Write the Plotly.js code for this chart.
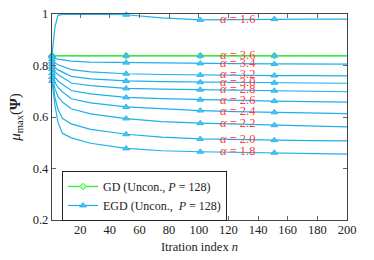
<!DOCTYPE html>
<html><head><meta charset="utf-8">
<script src="https://cdn.plot.ly/plotly-3.0.1.min.js"></script>
<style>body{margin:0;background:#fff}</style></head>
<body><div id="c" style="width:374px;height:260px"></div>
<script>
// iteration indices where values were read
const iters = [1, 2, 3, 5, 8, 14, 27, 51, 75, 101, 125, 151, 175, 200];
const markerIters = [1, 51, 101, 151];
const xTicks = [20, 40, 60, 80, 100, 120, 140, 160, 180, 200];
const yTicks = [0.2, 0.4, 0.6, 0.8, 1];

// GD (Uncon., P = 128)
const gd = [0.838, 0.838, 0.838, 0.838, 0.838, 0.838, 0.838, 0.838, 0.838, 0.838, 0.838, 0.838, 0.838, 0.838];

// EGD (Uncon., P = 128), one series per alpha
const alphaLabels = ['1.6', '3.6', '3.4', '3.2', '3.0', '2.8', '2.6', '2.4', '2.2', '2.0', '1.8'];
const egd16 = [0.840, 0.900, 0.950, 0.995, 0.998, 0.999, 0.999, 0.997, 0.985, 0.977, 0.978, 0.980, 0.980, 0.980];
const egd36 = [0.838, 0.838, 0.838, 0.838, 0.838, 0.838, 0.838, 0.838, 0.838, 0.838, 0.838, 0.838, 0.838, 0.838];
const egd34 = [0.835, 0.830, 0.828, 0.825, 0.822, 0.817, 0.813, 0.811, 0.809, 0.808, 0.807, 0.806, 0.806, 0.805];
const egd32 = [0.825, 0.815, 0.810, 0.803, 0.797, 0.784, 0.775, 0.768, 0.765, 0.763, 0.762, 0.761, 0.761, 0.760];
const egd30 = [0.815, 0.800, 0.792, 0.783, 0.775, 0.758, 0.748, 0.740, 0.737, 0.735, 0.734, 0.733, 0.732, 0.731];
const egd28 = [0.805, 0.785, 0.775, 0.765, 0.755, 0.732, 0.722, 0.711, 0.708, 0.706, 0.704, 0.702, 0.700, 0.698];
const egd26 = [0.795, 0.770, 0.755, 0.740, 0.728, 0.703, 0.690, 0.676, 0.671, 0.667, 0.664, 0.662, 0.660, 0.658];
const egd24 = [0.785, 0.755, 0.735, 0.715, 0.698, 0.671, 0.655, 0.639, 0.631, 0.625, 0.621, 0.618, 0.616, 0.613];
const egd22 = [0.770, 0.735, 0.710, 0.680, 0.658, 0.632, 0.612, 0.594, 0.582, 0.576, 0.572, 0.568, 0.565, 0.562];
const egd20 = [0.755, 0.710, 0.675, 0.630, 0.595, 0.573, 0.552, 0.533, 0.522, 0.515, 0.512, 0.510, 0.508, 0.507];
const egd18 = [0.740, 0.690, 0.645, 0.580, 0.537, 0.519, 0.498, 0.478, 0.469, 0.465, 0.463, 0.461, 0.458, 0.456];
const egdSeries = [egd16, egd36, egd34, egd32, egd30, egd28, egd26, egd24, egd22, egd20, egd18];

const labelIter = 125;  // series value used for each alpha label's height

const BLUE = '#1fb0ea';
const GREEN = '#33ee33';
const RED = '#ff3a3a';
const FONT = 'Liberation Serif';

const mIdx = markerIters.map(m => iters.indexOf(m));
const traces = [];
egdSeries.forEach(s => {
  traces.push({x: iters, y: s, mode: 'lines', line: {color: BLUE, width: 1.2}, showlegend: false, hoverinfo: 'skip'});
});
traces.push({x: iters, y: gd, mode: 'lines', line: {color: GREEN, width: 1.4}, showlegend: false, hoverinfo: 'skip'});
traces.push({x: markerIters, y: mIdx.map(i => gd[i]), mode: 'markers', showlegend: false, cliponaxis: false,
  marker: {symbol: 'diamond', size: 5, color: '#b8ffb8', line: {color: GREEN, width: 1}}});
egdSeries.forEach(s => {
  traces.push({x: markerIters, y: mIdx.map(i => s[i]), mode: 'markers', showlegend: false, cliponaxis: false,
    marker: {symbol: 'triangle-up', size: 6, color: '#4cc4f2', line: {color: BLUE, width: 0.8}}});
});
// legend entries
traces.push({x: [null], y: [null], mode: 'lines+markers', name: 'GD (Uncon., <i>P</i> = 128)',
  line: {color: GREEN, width: 1.4}, marker: {symbol: 'diamond', size: 5, color: '#b8ffb8', line: {color: GREEN, width: 1}}});
traces.push({x: [null], y: [null], mode: 'lines+markers', name: 'EGD (Uncon.,  <i>P</i> = 128)',
  line: {color: BLUE, width: 1.2}, marker: {symbol: 'triangle-up', size: 6, color: '#4cc4f2', line: {color: BLUE, width: 0.8}}});

const li = iters.indexOf(labelIter);
const annotations = alphaLabels.map((a, k) => ({
  x: 113, y: egdSeries[k][li], xref: 'x', yref: 'y', xanchor: 'left', showarrow: false,
  text: '<i>α</i> = ' + a, yshift: 1,
  font: {family: FONT, size: 12.5, color: RED}
}));

const axisCommon = {
  ticks: 'inside', ticklen: 4, tickcolor: '#666', tickwidth: 1, mirror: 'ticks',
  showline: true, linecolor: '#444', linewidth: 1.2, showgrid: false, zeroline: false,
  tickfont: {family: FONT, size: 12.5, color: '#222'}
};

const layout = {
  width: 374, height: 260,
  margin: {l: 52, r: 27, t: 14, b: 40},
  paper_bgcolor: '#fff', plot_bgcolor: '#fff',
  font: {family: FONT, size: 12, color: '#222'},
  xaxis: Object.assign({}, axisCommon, {range: [1, 200], tickvals: xTicks, ticktext: xTicks.map(String),
    ticklabelstandoff: -2,
    title: {text: 'Itration index <i>n</i>', standoff: 6, font: {family: FONT, size: 12.5}}}),
  yaxis: Object.assign({}, axisCommon, {range: [0.2, 1], tickvals: yTicks, ticktext: yTicks.map(String),
    title: {text: '<i>μ</i><sub>max</sub>(<b>Ψ</b>)', standoff: 8, font: {family: FONT, size: 15}}}),
  showlegend: true,
  legend: {x: 0.034, y: 0.238, xanchor: 'left', yanchor: 'top', bordercolor: '#222', borderwidth: 1,
    bgcolor: '#fff', itemwidth: 30, tracegroupgap: 0, font: {family: FONT, size: 12, color: '#222'}},
  annotations: annotations
};

Plotly.newPlot('c', traces, layout, {displayModeBar: false, staticPlot: true});
</script></body></html>
